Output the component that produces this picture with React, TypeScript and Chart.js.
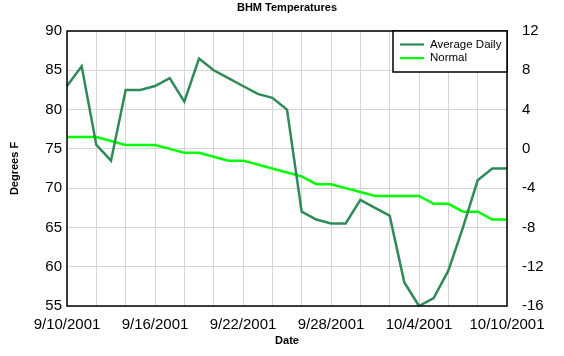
import React, { useEffect, useRef } from 'react';
import { Chart, registerables } from 'chart.js';
Chart.register(...registerables);

const dates = [
  '9/10/2001', '9/11/2001', '9/12/2001', '9/13/2001', '9/14/2001', '9/15/2001', '9/16/2001',
  '9/17/2001', '9/18/2001', '9/19/2001', '9/20/2001', '9/21/2001', '9/22/2001', '9/23/2001',
  '9/24/2001', '9/25/2001', '9/26/2001', '9/27/2001', '9/28/2001', '9/29/2001', '9/30/2001',
  '10/1/2001', '10/2/2001', '10/3/2001', '10/4/2001', '10/5/2001', '10/6/2001', '10/7/2001',
  '10/8/2001', '10/9/2001', '10/10/2001',
];
const averageDaily = [83, 85.5, 75.5, 73.5, 82.5, 82.5, 83, 84, 81, 86.5, 85, 84, 83, 82, 81.5, 80, 67, 66, 65.5, 65.5, 68.5, 67.5, 66.5, 58, 55, 56, 59.5, 65, 71, 72.5, 72.5];
const normal = [76.5, 76.5, 76.5, 76, 75.5, 75.5, 75.5, 75, 74.5, 74.5, 74, 73.5, 73.5, 73, 72.5, 72, 71.5, 70.5, 70.5, 70, 69.5, 69, 69, 69, 69, 68, 68, 67, 67, 66, 66];
const leftRange = [55, 90];
const rightRange = [-16, 12];

const FONT = "'Liberation Sans', Arial, sans-serif";
const GRID = '#d4d4d4';

const framePlugin = {
  id: 'frameLegend',
  afterDraw(chart: any) {
    const { ctx, chartArea } = chart;
    ctx.save();
    ctx.strokeStyle = '#000';
    ctx.lineWidth = 1.5;
    ctx.strokeRect(chartArea.left, chartArea.top, chartArea.right - chartArea.left, chartArea.bottom - chartArea.top);
    // legend box
    const w = 114, h = 41;
    const x = chartArea.right - w, y = chartArea.top;
    ctx.fillStyle = '#fff';
    ctx.fillRect(x, y, w, h);
    ctx.strokeRect(x, y, w, h);
    chart.data.datasets.forEach((ds: any, i: number) => {
      const ly = y + 13.5 + i * 13.6;
      ctx.strokeStyle = ds.borderColor;
      ctx.lineWidth = 2.2;
      ctx.beginPath();
      ctx.moveTo(x + 7, ly);
      ctx.lineTo(x + 31, ly);
      ctx.stroke();
      ctx.fillStyle = '#000';
      ctx.font = `11.5px ${FONT}`;
      ctx.textBaseline = 'middle';
      ctx.textAlign = 'left';
      ctx.fillText(ds.label, x + 37, ly);
    });
    ctx.restore();
  },
};

export default function App() {
  const ref = useRef<HTMLCanvasElement>(null);
  useEffect(() => {
    const chart = new Chart(ref.current as HTMLCanvasElement, {
      type: 'line',
      data: {
        labels: dates,
        datasets: [
          { label: 'Average Daily', data: averageDaily, borderColor: '#2e8b57', backgroundColor: '#2e8b57', borderWidth: 2.5, pointRadius: 0, tension: 0, yAxisID: 'y' },
          { label: 'Normal', data: normal, borderColor: '#00ff00', backgroundColor: '#00ff00', borderWidth: 2.5, pointRadius: 0, tension: 0, yAxisID: 'y' },
        ],
      },
      options: {
        responsive: false,
        animation: false,
        devicePixelRatio: 1,
        layout: { padding: 0 },
        plugins: {
          legend: { display: false },
          tooltip: { enabled: false },
          title: {
            display: true,
            text: 'BHM Temperatures',
            color: '#000',
            font: { family: FONT, size: 11, weight: 'bold' },
            padding: { top: 1, bottom: 16.8 },
            fullSize: false,
          },
        },
        scales: {
          x: {
            type: 'category',
            offset: false,
            grid: { color: (c: any) => (c.index % 2 === 0 ? GRID : 'rgba(0,0,0,0)'), drawTicks: false, lineWidth: 1 },
            border: { display: false },
            ticks: {
              autoSkip: false,
              maxRotation: 0,
              minRotation: 0,
              padding: 9.5,
              color: '#000',
              font: { family: FONT, size: 15 },
              callback: (_v: any, i: number) => (i % 6 === 0 ? dates[i] : ''),
            },
            title: { display: true, text: 'Date', color: '#000', font: { family: FONT, size: 11, weight: 'bold' }, padding: { top: 0, bottom: 8 } },
            afterFit: (s: any) => { s.height = 50; },
          },
          y: {
            position: 'left',
            min: leftRange[0],
            max: leftRange[1],
            grid: { color: GRID, drawTicks: false, lineWidth: 1 },
            border: { display: false },
            ticks: {
              stepSize: 2.5,
              padding: 5,
              color: '#000',
              font: { family: FONT, size: 15 },
              callback: (v: any) => (Number(v) % 5 === 0 ? String(v) : ''),
            },
            title: { display: true, text: 'Degrees F', color: '#000', font: { family: FONT, size: 11, weight: 'bold' }, padding: { top: 8, bottom: 0 } },
            afterFit: (s: any) => { s.width = 67; },
          },
          y2: {
            position: 'right',
            min: rightRange[0],
            max: rightRange[1],
            grid: { display: false },
            border: { display: false },
            ticks: { stepSize: 4, padding: 7, color: '#000', font: { family: FONT, size: 15 } },
            afterFit: (s: any) => { s.width = 57; },
          },
        },
      },
      plugins: [framePlugin],
    } as any);
    return () => chart.destroy();
  }, []);
  return (
    <div style={{ position: 'fixed', left: 0, top: 0, width: 564, height: 356, background: '#fff' }}>
      <canvas ref={ref} width={564} height={356} style={{ display: 'block' }} />
    </div>
  );
}
